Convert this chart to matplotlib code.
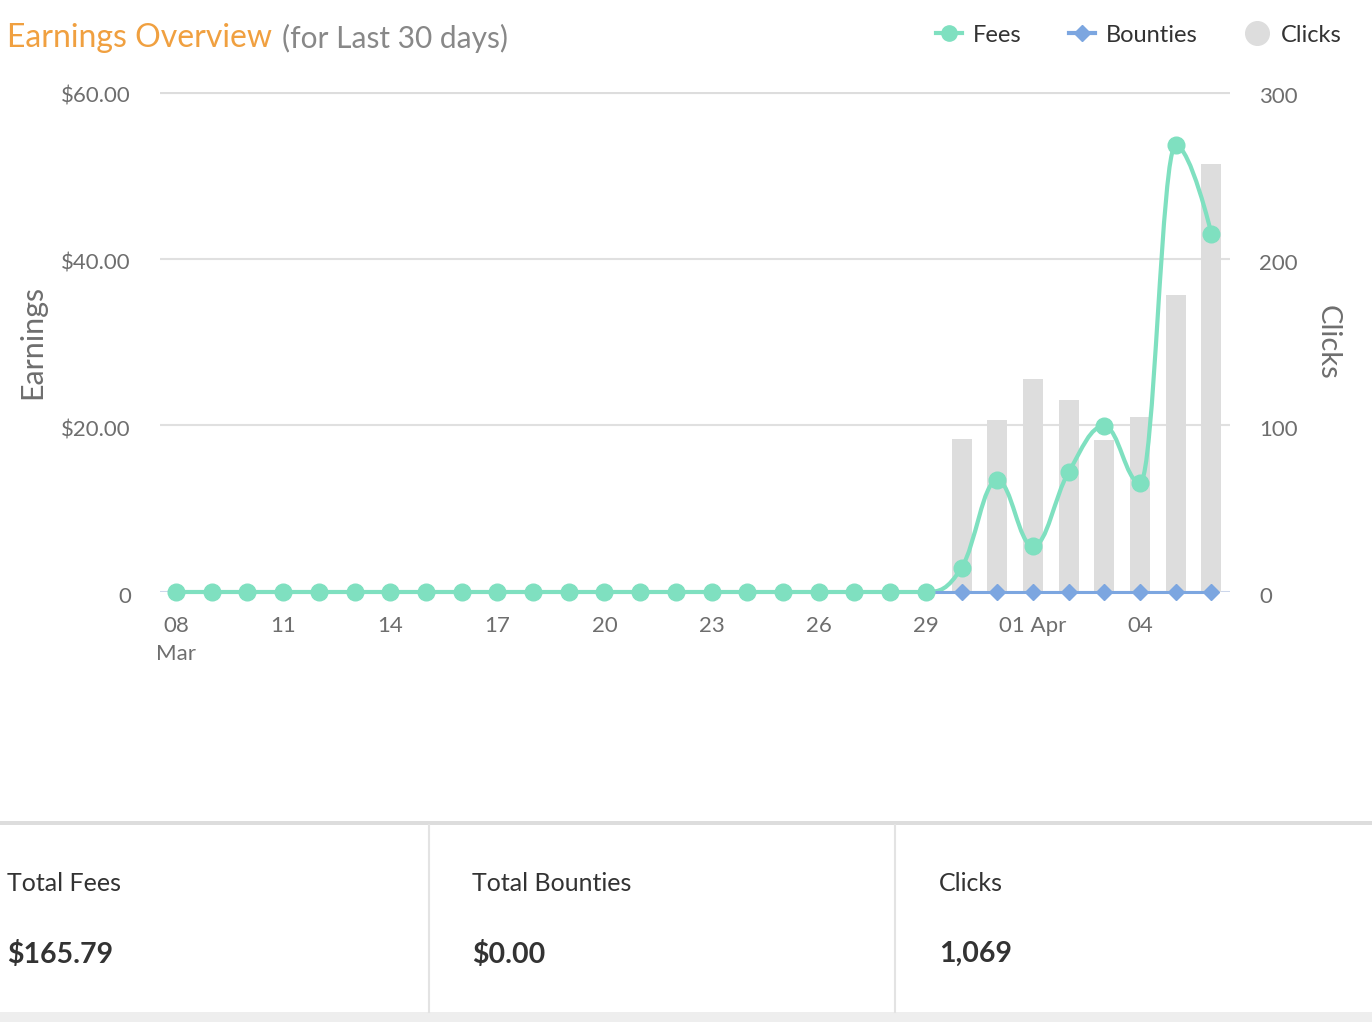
import numpy as np
import matplotlib
matplotlib.use('Agg')
import matplotlib.pyplot as plt
from matplotlib.path import Path
from matplotlib.patches import PathPatch, Rectangle
from matplotlib.lines import Line2D
from matplotlib.transforms import ScaledTranslation

plt.rcParams['font.family'] = ['Lato', 'DejaVu Sans']

# 30 days, 08 Mar .. 06 Apr
days = ['08', '09', '10', '11', '12', '13', '14', '15', '16', '17', '18', '19', '20', '21', '22',
        '23', '24', '25', '26', '27', '28', '29', '30', '31', '01', '02', '03', '04', '05', '06']
tick_idx = [0, 3, 6, 9, 12, 15, 18, 21, 24, 27]
tick_labels = ['08\nMar', '11', '14', '17', '20', '23', '26', '29', '01 Apr', '04']

fees = [0, 0, 0, 0, 0, 0, 0, 0, 0, 0, 0, 0, 0, 0, 0, 0, 0, 0, 0, 0, 0,
        0, 2.9, 13.4, 5.5, 14.4, 19.9, 13.1, 53.6, 43.0]
bounties_start = 21
bounties = [0, 0, 0, 0, 0, 0, 0, 0, 0]
clicks = [0, 0, 0, 0, 0, 0, 0, 0, 0, 0, 0, 0, 0, 0, 0, 0, 0, 0, 0, 0, 0,
          0, 92, 103, 128, 115, 91, 105, 178, 257]

totals_labels = ['Total Fees', 'Total Bounties', 'Clicks']
totals_values = ['$165.79', '$0.00', '1,069']

FEES_C = '#7fe0c0'
BOUNTY_C = '#7ca6e0'
CLICK_C = '#dddddd'
GRID_C = '#e0e0e0'
TXT_C = '#6e6e6e'


def spline_path(xs, ys, smoothing=1.5):
    # highcharts-like spline through the points
    verts = [(xs[0], ys[0])]
    codes = [Path.MOVETO]
    n = len(xs)
    lc = [None] * n
    rc = [None] * n
    rc[0] = (xs[0], ys[0])
    lc[-1] = (xs[-1], ys[-1])
    d = smoothing + 1
    for i in range(1, n - 1):
        px, py = xs[i], ys[i]
        lx, ly = xs[i - 1], ys[i - 1]
        nx, ny = xs[i + 1], ys[i + 1]
        lcx = (smoothing * px + lx) / d
        lcy = (smoothing * py + ly) / d
        rcx = (smoothing * px + nx) / d
        rcy = (smoothing * py + ny) / d
        if rcx != lcx:
            corr = ((rcy - lcy) * (rcx - px)) / (rcx - lcx) + py - rcy
            lcy += corr
            rcy += corr
        if lcy > ly and lcy > py:
            lcy = max(ly, py)
            rcy = 2 * py - lcy
        elif lcy < ly and lcy < py:
            lcy = min(ly, py)
            rcy = 2 * py - lcy
        if rcy > ny and rcy > py:
            rcy = max(ny, py)
            lcy = 2 * py - rcy
        elif rcy < ny and rcy < py:
            rcy = min(ny, py)
            lcy = 2 * py - rcy
        lc[i] = (lcx, lcy)
        rc[i] = (rcx, rcy)
    for i in range(1, n):
        verts += [rc[i - 1], lc[i], (xs[i], ys[i])]
        codes += [Path.CURVE4] * 3
    return Path(verts, codes)


W, H = 1372, 1022
fig = plt.figure(figsize=(W / 100, H / 100), dpi=100)

L, R, T, B = 160, 1230, 92, 592
ax2 = fig.add_axes([L / W, 1 - B / H, (R - L) / W, (B - T) / H])
ax = ax2.twinx()
ax.yaxis.tick_left()
ax.yaxis.set_label_position('left')
ax2.yaxis.tick_right()
ax2.yaxis.set_label_position('right')

x = np.arange(len(days))
xmin, xmax = -0.45, 29.52

# clicks bars and grid (bottom layer)
ax2.bar(x, clicks, width=0.56, color=CLICK_C, zorder=2)
for v in [100, 200]:
    ax2.axhline(v, color=GRID_C, lw=1.5, zorder=1)
ax2.axhline(300, color='#dddddd', lw=3, zorder=1)
ax2.axhline(0, color='#ccd6eb', lw=1.5, zorder=1)
ax2.set_ylim(0, 300)
ax2.set_yticks([0, 100, 200, 300])
ax2.set_ylabel('Clicks', rotation=-90, fontsize=21, color=TXT_C, labelpad=31)

# fees + bounties
path = spline_path(list(x), fees)
ax.add_patch(PathPatch(path, facecolor='none', edgecolor=FEES_C, lw=3, zorder=3, clip_on=False))
xb = x[bounties_start:]
ax.plot(xb, bounties, color=BOUNTY_C, lw=2.2, marker='D', ms=8, mec=BOUNTY_C, zorder=4,
        clip_on=False)
ax.plot(x, fees, ls='none', marker='o', ms=12, color=FEES_C, zorder=5, clip_on=False)
ax.set_ylim(0, 60)
ax.set_yticks([0, 20, 40, 60])
ax.set_yticklabels(['0', '$20.00', '$40.00', '$60.00'])
ax.set_ylabel('Earnings', fontsize=22, color=TXT_C, labelpad=11)

ax.set_xlim(xmin, xmax)
ax2.set_xlim(xmin, xmax)
ax2.set_xticks(tick_idx)
ax2.set_xticklabels(tick_labels, linespacing=1.55, va='top')

for a in (ax, ax2):
    for s in a.spines.values():
        s.set_visible(False)
    a.tick_params(length=0, labelsize=16, labelcolor=TXT_C)
    a.patch.set_visible(False)
ax.tick_params(axis='y', pad=21)
ax2.tick_params(axis='y', pad=21)
ax2.tick_params(axis='x', pad=17)

down = ScaledTranslation(0, -3 / 100, fig.dpi_scale_trans)
for lab in ax.get_yticklabels() + ax2.get_yticklabels():
    lab.set_transform(lab.get_transform() + down)

# title
t1 = fig.text(7 / W, 1 - 38 / H, 'Earnings Overview', fontsize=23, color='#f0a040', va='center')
fig.canvas.draw()
bb = t1.get_window_extent(renderer=fig.canvas.get_renderer())
fig.text((bb.x1 + 10) / W, 1 - 38 / H, '(for Last 30 days)', fontsize=21.5, color='#888888',
         va='center')

# legend
handles = [Line2D([], [], color=FEES_C, lw=3, marker='o', ms=11),
           Line2D([], [], color=BOUNTY_C, lw=3, marker='D', ms=8),
           Line2D([], [], ls='none', color=CLICK_C, marker='o', ms=17)]
fig.legend(handles, ['Fees', 'Bounties', 'Clicks'], loc='center right',
           bbox_to_anchor=(1363 / W, 1 - 35 / H), ncol=3, frameon=False, fontsize=17,
           handlelength=1.1, handletextpad=0.45, columnspacing=2.0, labelcolor='#333333')

# footer panel
fig.add_artist(Rectangle((0, 1 - 825 / H), 1, 4 / H, transform=fig.transFigure,
                         color='#dddddd', lw=0))
fig.add_artist(Rectangle((0, 0), 1, 10 / H, transform=fig.transFigure,
                         color='#eeeeee', lw=0))
for xp in [429, 895]:
    fig.add_artist(Line2D([xp / W, xp / W], [10 / H, 1 - 825 / H], transform=fig.transFigure,
                          color='#e3e3e3', lw=1.5))
for xp, lab, val in zip([7, 472, 939], totals_labels, totals_values):
    fig.text(xp / W, 1 - 883 / H, lab, fontsize=18, color='#333333', va='center')
    fig.text(xp / W, 1 - 954 / H, val, fontsize=20.5, color='#333333', va='center',
             fontweight='bold')

fig.savefig('out.png', dpi=100, facecolor='white')
